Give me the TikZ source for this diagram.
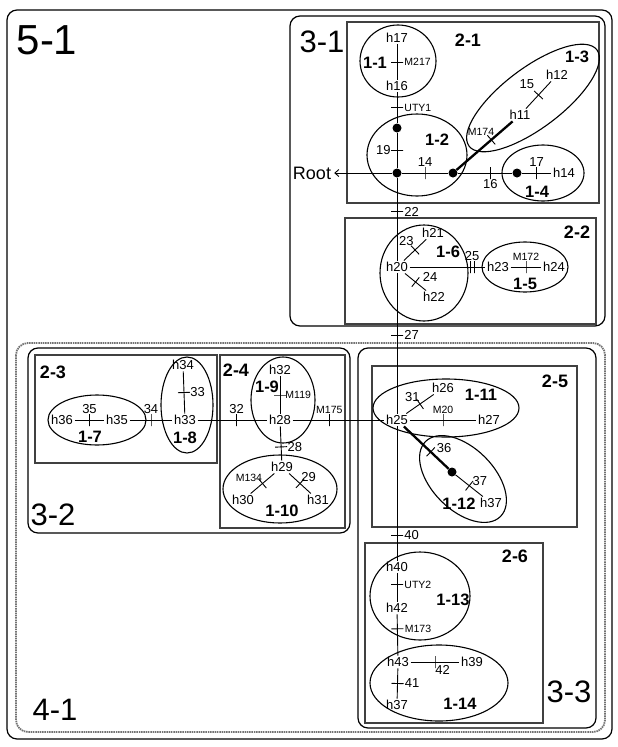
\documentclass[tikz,border=0pt]{standalone}
\usepackage{fontspec}
\setmainfont{Liberation Sans}
\usetikzlibrary{arrows.meta,positioning}

\begin{document}
\begin{tikzpicture}[x=1pt,y=-1pt,
    hap/.style={font=\fontsize{13}{13}\selectfont, inner sep=1.5pt},
    num/.style={font=\fontsize{13}{13}\selectfont, inner sep=0pt},
    mk/.style={font=\fontsize{10.5}{10.5}\selectfont, inner sep=0pt},
    grp/.style={font=\fontsize{16.5}{16.5}\selectfont\bfseries, inner sep=0pt},
    sub/.style={font=\fontsize{18}{18}\selectfont\bfseries, inner sep=0pt},
    lvl/.style={font=\fontsize{31}{31}\selectfont, inner sep=0pt},
    tick/.style={draw, sloped, inner sep=0pt, minimum width=0pt, minimum height=12pt, line width=.9pt},
    dot/.style={circle, fill, inner sep=0pt, minimum size=9pt},
    link/.style={line width=.9pt},
    fat/.style={line width=2.3pt},
    clade/.style={line width=1.1pt},
    box/.style={line width=1.1pt, draw=black!75},
    frame/.style={line width=1.2pt, rounded corners=10pt}]
  \useasboundingbox (0,0) rectangle (618,747);

  % frames of level 5, 4, 3
  \draw[frame] (7,10) rectangle (612,739);
  \node[lvl, font=\fontsize{42}{42}\selectfont] (l51) at (47,40) {5-1};
  \draw[frame, line width=1.8pt, draw=black!55, dash pattern=on 1.5pt off .8pt, rounded corners=12pt] (16,343) rectangle (605,732);
  \node[lvl] (l41) at (55,710) {4-1};
  \draw[frame] (290,16) rectangle (605,326);
  \node[lvl] (l31) at (322,42) {3-1};
  \draw[frame] (28,348) rectangle (350,533);
  \node[lvl] (l32) at (53,515) {3-2};
  \draw[frame] (358,348) rectangle (596,728);
  \node[lvl] (l33) at (569,692) {3-3};

  % level 2
  \draw[box] (347,22) rectangle (599,203);
  \node[sub] (l21) at (468,40) {2-1};
  \draw[box] (345,218) rectangle (596,324);
  \node[sub] (l22) at (577,232) {2-2};
  \draw[box] (35,355) rectangle (217,463);
  \node[sub] (l23) at (53,372) {2-3};
  \draw[box] (220,355) rectangle (345,528);
  \node[sub] (l24) at (236,370) {2-4};
  \draw[box] (372,366) rectangle (577,527);
  \node[sub] (l25) at (555,381) {2-5};
  \draw[box] (365,543) rectangle (543,723);
  \node[sub] (l26) at (515,556) {2-6};

  % level 1
  \draw[clade] (398,61) ellipse (38pt and 36pt);
  \node[grp] (g11) at (375,63) {1-1};
  \draw[clade] (417,155) ellipse (50pt and 41pt);
  \node[grp] (g12) at (437,140) {1-2};
  \draw[clade, rotate around={37:(533,98)}] (533,98) ellipse (80pt and 30pt);
  \node[grp] (g13) at (577,57) {1-3};
  \draw[clade] (543,173) ellipse (41pt and 28pt);
  \node[grp] (g14) at (537,192) {1-4};
  \draw[clade] (525,267) ellipse (43pt and 25pt);
  \node[grp] (g15) at (525,284) {1-5};
  \draw[clade] (424,273) ellipse (44pt and 48pt);
  \node[grp] (g16) at (448,252) {1-6};
  \draw[clade] (97,420) ellipse (49pt and 25pt);
  \node[grp] (g17) at (90,437) {1-7};
  \draw[clade] (187,405) ellipse (26pt and 48pt);
  \node[grp] (g18) at (185,438) {1-8};
  \draw[clade] (283,400) ellipse (32pt and 43pt);
  \node[grp] (g19) at (267,387) {1-9};
  \draw[clade] (280,489) ellipse (57pt and 34pt);
  \node[grp] (g110) at (282,511) {1-10};
  \draw[clade] (446,408) ellipse (73pt and 29pt);
  \node[grp] (g111) at (481,395) {1-11};
  \draw[clade, rotate around={-45:(463,479)}] (463,479) ellipse (53pt and 31pt);
  \node[grp] (g112) at (459,504) {1-12};
  \draw[clade] (420,596) ellipse (50pt and 44pt);
  \node[grp] (g113) at (453,600) {1-13};
  \draw[clade] (439,683) ellipse (69pt and 38pt);
  \node[grp] (g114) at (460,704) {1-14};

  % haplotypes and nodes
  \node[hap] (h17) at (397,38) {h17};
  \node[hap] (h16) at (397,86) {h16};
  \node[dot] (d1) at (397,128) {};
  \node[dot] (d0) at (397,173) {};
  \node[dot] (d2) at (453,173) {};
  \node[dot] (d3) at (517,173) {};
  \node[hap, font=\fontsize{18}{18}\selectfont, inner sep=3pt] (root) at (312,173) {Root};
  \node[hap] (h11) at (520,115) {h11};
  \node[hap] (h12) at (557,75) {h12};
  \node[hap] (h14) at (564,173) {h14};
  \node[hap] (h20) at (397,267) {h20};
  \node[hap] (h21) at (433,233) {h21};
  \node[hap] (h22) at (434,297) {h22};
  \node[hap] (h23) at (498,267) {h23};
  \node[hap] (h24) at (554,267) {h24};
  \node[hap] (h36) at (62,420) {h36};
  \node[hap] (h35) at (117,420) {h35};
  \node[hap] (h33) at (185,420) {h33};
  \node[hap] (h34) at (183,365) {h34};
  \node[hap] (h28) at (280,420) {h28};
  \node[hap] (h32) at (280,370) {h32};
  \node[hap] (h29) at (282,467) {h29};
  \node[hap] (h30) at (243,500) {h30};
  \node[hap] (h31) at (318,500) {h31};
  \node[hap] (h25) at (397,420) {h25};
  \node[hap] (h26) at (443,388) {h26};
  \node[hap] (h27) at (489,420) {h27};
  \node[dot] (d4) at (452,472) {};
  \node[hap] (h37a) at (491,503) {h37};
  \node[hap] (h40) at (397,567) {h40};
  \node[hap] (h42) at (397,608) {h42};
  \node[hap] (h43) at (398,662) {h43};
  \node[hap] (h39) at (472,662) {h39};
  \node[hap] (h37b) at (397,705) {h37};

  % main line
  \draw[link] (h17) -- node[tick] (k217) {} node[mk, right=7pt] (n217) {M217} (h16);
  \draw[link] (h16) -- node[tick] (ku1) {} node[mk, right=7pt] (nu1) {UTY1} (d1);
  \draw[link] (d1) -- node[tick] (k19) {} node[num, left=6pt] (n19) {19} (d0);
  \draw[link] (d0) -- node[tick, pos=.41] (k22) {} node[num, right=7pt, pos=.41] (n22) {22} (h20);
  \draw[link] (h20) -- node[tick, pos=.44] (k27) {} node[num, right=7pt, pos=.44] (n27) {27} (h25);
  \draw[link] (h25) -- node[tick, pos=.81] (k40) {} node[num, right=7pt, pos=.81] (n40) {40} (h40);
  \draw[link] (h40) -- node[tick, pos=.4] (ku2) {} node[mk, right=7pt, pos=.4] (nu2) {UTY2} (h42);
  \draw[link] (h42) -- node[tick, pos=.35] (k173) {} node[mk, right=7pt, pos=.35] (n173) {M173} (h43);
  \draw[link] (h43) -- node[tick] (k41) {} node[num, right=7pt] (n41) {41} (h37b);

  % 3-1
  \draw[link, -{Straight Barb[length=4pt, width=7pt]}] (d0) -- (root);
  \draw[link] (d0) -- node[tick] (k14) {} node[num, above=6pt] (n14) {14} (d2);
  \draw[link] (d2) -- node[tick, pos=.6] (k16) {} node[num, below=6pt, pos=.6] (n16) {16} (d3);
  \draw[link] (d3) -- node[tick] (k17) {} node[num, above=6pt] (n17) {17} (h14);
  \draw[fat] (d2) -- node[tick, pos=.62] (k174) {} node[mk, above left=3pt and -4pt, pos=.62] (n174) {M174} (h11);
  \draw[link] (h11) -- node[tick] (k15) {} node[num, above left=6pt and 4pt] (n15) {15} (h12);
  \draw[link] (h20) -- node[tick] (k23) {} node[num, above left=4pt and 1pt] (n23) {23} (h21);
  \draw[link] (h20) -- node[tick] (k24) {} node[num, above right=0pt and 7pt] (n24) {24} (h22);
  \draw[link] (h20) -- node[tick, pos=.8] (k25a) {} node[tick, pos=.85] (k25b) {} node[num, above=6pt, pos=.825] (n25) {25} (h23);
  \draw[link] (h23) -- node[tick] (k172) {} node[mk, above=6pt] (n172) {M172} (h24);

  % 3-2
  \draw[link] (h36) -- node[tick] (k35) {} node[num, above=6pt] (n35) {35} (h35);
  \draw[link] (h35) -- node[tick] (k34) {} node[num, above=6pt] (n34) {34} (h33);
  \draw[link] (h34) -- node[tick] (k33) {} node[num, right=6pt] (n33) {33} (h33);
  \draw[link] (h33) -- node[tick, pos=.56] (k32) {} node[num, above=6pt, pos=.56] (n32) {32} (h28);
  \draw[link] (h32) -- node[tick] (k119) {} node[mk, right=5pt] (n119) {M119} (h28);
  \draw[link] (h28) -- node[tick, pos=.4] (k175) {} node[mk, above=6pt, pos=.4] (n175) {M175} (h25);
  \draw[link] (h28) -- node[tick, pos=.6] (k28) {} node[num, right=6pt, pos=.6] (n28) {28} (h29);
  \draw[link] (h29) -- node[tick] (k134) {} node[mk, above left=1pt and 0pt] (n134) {M134} (h30);
  \draw[link] (h29) -- node[tick] (k29) {} node[num, above right=1pt and 1pt] (n29) {29} (h31);

  % 3-3
  \draw[link] (h25) -- node[tick] (k31) {} node[num, above left=2pt and 0pt] (n31) {31} (h26);
  \draw[link] (h25) -- node[tick] (k20) {} node[mk, above=6pt] (n20) {M20} (h27);
  \draw[fat] (h25) -- node[tick, pos=.6] (k36) {} node[num, above right=-2pt and 5pt, pos=.6] (n36) {36} (d4);
  \draw[link] (d4) -- node[tick] (k37) {} node[num, above right=0pt and 3pt] (n37) {37} (h37a);
  \draw[link] (h43) -- node[tick] (k42) {} node[num, below right=3pt and 0pt] (n42) {42} (h39);
\end{tikzpicture}
\end{document}
